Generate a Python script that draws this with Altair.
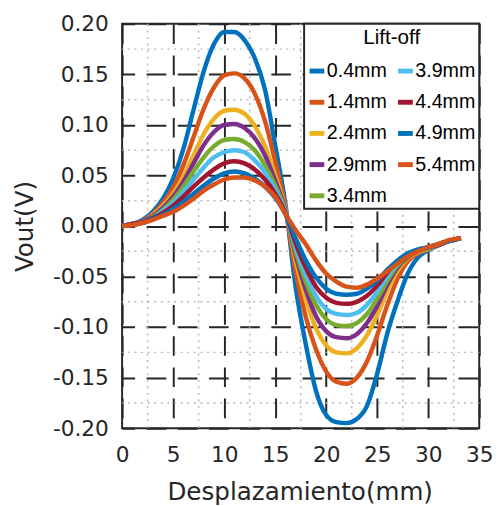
import altair as alt
import pandas as pd

# ---------------- data ----------------
x_mm = [0, 1, 2, 3, 4, 5, 6, 7, 8, 9, 10, 11, 12, 13, 14, 15, 16,
        17, 18, 19, 20, 21, 22, 23, 24, 25, 26, 27, 28, 29, 30, 31, 32, 33.2]

series_names = ["0.4mm", "1.4mm", "2.4mm", "2.9mm", "3.4mm",
                "3.9mm", "4.4mm", "4.9mm", "5.4mm"]

v_04 = [0.000, 0.002, 0.006, 0.014, 0.027, 0.047, 0.076, 0.115, 0.153, 0.180, 0.192, 0.192,
        0.184, 0.166, 0.135, 0.080, 0.022, -0.060, -0.117, -0.163, -0.187, -0.194, -0.195,
        -0.191, -0.178, -0.146, -0.106, -0.074, -0.047, -0.031, -0.024, -0.019, -0.015, -0.012]
v_14 = [0.000, 0.002, 0.005, 0.012, 0.023, 0.038, 0.060, 0.088, 0.116, 0.137, 0.149, 0.151,
        0.146, 0.131, 0.104, 0.064, 0.019, -0.045, -0.090, -0.122, -0.144, -0.154, -0.156,
        -0.150, -0.134, -0.108, -0.078, -0.052, -0.035, -0.027, -0.023, -0.019, -0.015, -0.012]
v_24 = [0.000, 0.002, 0.005, 0.011, 0.020, 0.032, 0.049, 0.070, 0.091, 0.106, 0.114, 0.115,
        0.111, 0.099, 0.079, 0.050, 0.017, -0.034, -0.072, -0.101, -0.118, -0.125, -0.126,
        -0.121, -0.108, -0.088, -0.064, -0.044, -0.032, -0.026, -0.023, -0.019, -0.015, -0.012]
v_29 = [0.000, 0.002, 0.005, 0.010, 0.018, 0.029, 0.044, 0.062, 0.080, 0.093, 0.100, 0.101,
        0.097, 0.087, 0.070, 0.045, 0.016, -0.029, -0.063, -0.089, -0.104, -0.110, -0.111,
        -0.107, -0.096, -0.079, -0.058, -0.041, -0.031, -0.025, -0.022, -0.019, -0.015, -0.012]
v_34 = [0.000, 0.002, 0.004, 0.009, 0.016, 0.026, 0.039, 0.054, 0.068, 0.079, 0.085, 0.086,
        0.083, 0.075, 0.060, 0.040, 0.015, -0.025, -0.055, -0.078, -0.092, -0.098, -0.099,
        -0.096, -0.087, -0.072, -0.054, -0.039, -0.030, -0.025, -0.022, -0.018, -0.015, -0.012]
v_39 = [0.000, 0.002, 0.004, 0.008, 0.015, 0.023, 0.034, 0.046, 0.058, 0.068, 0.073, 0.075,
        0.073, 0.065, 0.053, 0.036, 0.014, -0.021, -0.048, -0.069, -0.082, -0.087, -0.088,
        -0.086, -0.078, -0.065, -0.050, -0.037, -0.029, -0.024, -0.021, -0.018, -0.015, -0.012]
v_44 = [0.000, 0.002, 0.004, 0.008, 0.013, 0.020, 0.029, 0.039, 0.048, 0.056, 0.062, 0.064,
        0.062, 0.056, 0.046, 0.032, 0.013, -0.017, -0.041, -0.060, -0.071, -0.076, -0.077,
        -0.075, -0.069, -0.059, -0.046, -0.035, -0.028, -0.024, -0.021, -0.018, -0.015, -0.012]
v_49 = [0.000, 0.001, 0.003, 0.007, 0.011, 0.017, 0.024, 0.032, 0.040, 0.047, 0.052, 0.054,
        0.052, 0.047, 0.039, 0.028, 0.012, -0.012, -0.034, -0.051, -0.062, -0.067, -0.068,
        -0.067, -0.062, -0.054, -0.043, -0.034, -0.027, -0.023, -0.021, -0.018, -0.015, -0.012]
v_54 = [0.000, 0.001, 0.003, 0.006, 0.010, 0.014, 0.020, 0.027, 0.035, 0.041, 0.046, 0.048,
        0.048, 0.045, 0.039, 0.029, 0.012, -0.004, -0.018, -0.034, -0.047, -0.055, -0.060,
        -0.061, -0.058, -0.052, -0.045, -0.037, -0.030, -0.025, -0.021, -0.018, -0.014, -0.012]

series_values = [v_04, v_14, v_24, v_29, v_34, v_39, v_44, v_49, v_54]
series_colors = ["#0072BD", "#D95319", "#EDB120", "#7E2F8E", "#77AC30",
                 "#4DBEEE", "#A2142F", "#0072BD", "#D95319"]

x_ticks = [0, 5, 10, 15, 20, 25, 30, 35]
y_ticks = [-0.20, -0.15, -0.10, -0.05, 0.00, 0.05, 0.10, 0.15, 0.20]
minor_x = [2.5, 7.5, 12.5, 17.5, 22.5, 27.5, 32.5]
minor_y = [-0.175, -0.125, -0.075, -0.025, 0.025, 0.075, 0.125, 0.175]

# ---------------- tables ----------------
rows = []
for name, vals in zip(series_names, series_values):
    for xv, yv in zip(x_mm, vals):
        rows.append({"x": xv, "v": yv, "liftoff": name})
df = pd.DataFrame(rows)

x_scale = alt.Scale(domain=[0, 35], nice=False, zero=False)
y_scale = alt.Scale(domain=[-0.2, 0.2], nice=False, zero=False)

x_axis = alt.Axis(values=x_ticks, title="Desplazamiento(mm)", labelPadding=17,
                  labelFlush=False, gridDashOffset=0, titleX=180.5, titleY=72,
                  titleBaseline="alphabetic", titleAnchor="middle")
y_axis = alt.Axis(values=y_ticks, title="Vout(V)", labelPadding=14, labelFlush=False,
                  labelExpr="datum.value < -0.0001 ? '-' + format(-datum.value, '.2f') : format(abs(datum.value), '.2f')",
                  gridDashOffset=7.3, titleX=-91, titleY=205.5, titleAngle=270,
                  titleBaseline="alphabetic", titleAnchor="middle")

minor_v = alt.Chart(pd.DataFrame({"x": minor_x})).mark_rule(
    color="#b8b8b8", strokeWidth=1.5, strokeDash=[2, 4.7]
).encode(x=alt.X("x:Q", scale=x_scale, axis=x_axis))

minor_h = alt.Chart(pd.DataFrame({"v": minor_y})).mark_rule(
    color="#b8b8b8", strokeWidth=1.5, strokeDash=[2, 4.7]
).encode(y=alt.Y("v:Q", scale=y_scale, axis=y_axis))

lines = alt.Chart(df).mark_line(strokeWidth=4.5, interpolate="monotone").encode(
    x=alt.X("x:Q", scale=x_scale, axis=x_axis),
    y=alt.Y("v:Q", scale=y_scale, axis=y_axis),
    color=alt.Color(
        "liftoff:N",
        scale=alt.Scale(domain=series_names, range=series_colors),
        legend=alt.Legend(
            title="Lift-off", orient="top-right", offset=0, columns=2,
            symbolType="stroke", symbolSize=225, symbolStrokeWidth=5,
            labelFont="Liberation Sans", labelFontSize=20, labelColor="black",
            labelOffset=0,
            titleFont="Liberation Sans", titleFontSize=21, titleFontWeight="normal",
            titleColor="black", titleAnchor="middle", titlePadding=14,
            rowPadding=11.7, columnPadding=0, padding=3,
            strokeColor="#262626", fillColor="white",
        ),
    ),
    detail="liftoff:N",
)

chart = alt.layer(minor_v, minor_h, lines).properties(
    width=363, height=411,
    autosize=alt.AutoSizeParams(type="none"),
    padding={"left": 116, "top": 12, "right": 14, "bottom": 75},
).configure_view(
    stroke="#262626", strokeWidth=2
).configure_axis(
    domain=False, ticks=False, grid=True,
    gridColor="#262626", gridWidth=2, gridDash=[20, 11.7],
    labelFont="DejaVu Sans", labelFontSize=22, labelColor="#262626",
    titleFont="DejaVu Sans", titleFontSize=25, titleColor="#262626",
    titleFontWeight="normal",
).configure_legend(strokeWidth=2)

chart.save("out.html", embed_options={"renderer": "svg", "actions": False})
